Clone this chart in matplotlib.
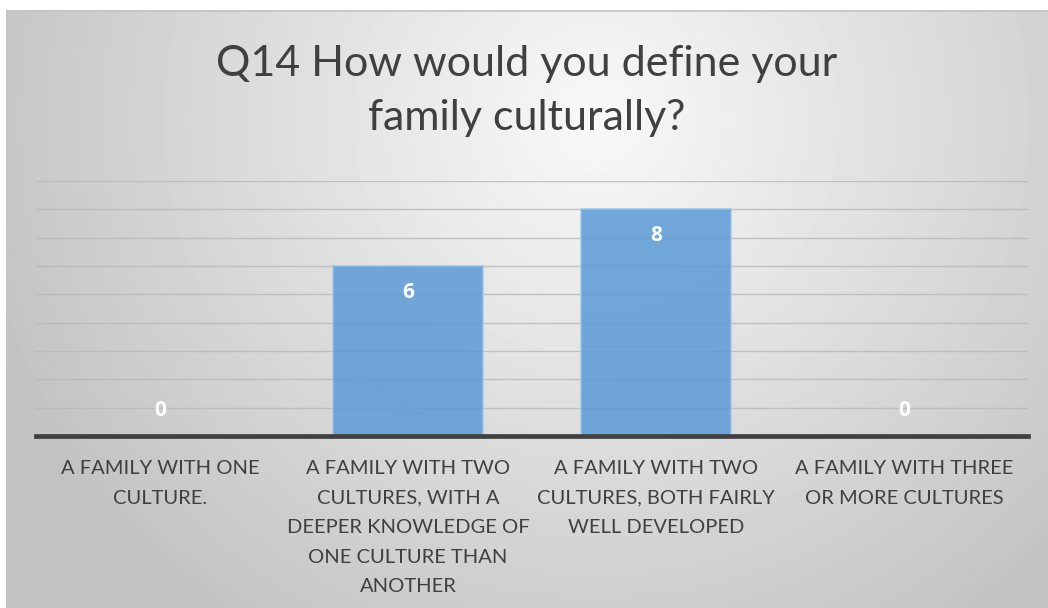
import matplotlib
matplotlib.use('Agg')

import numpy as np
import matplotlib.pyplot as plt

# ======================== Chart data ========================
CATEGORIES = [
    "A FAMILY WITH ONE\nCULTURE.",
    "A FAMILY WITH TWO\nCULTURES, WITH A\nDEEPER KNOWLEDGE OF\nONE CULTURE THAN\nANOTHER",
    "A FAMILY WITH TWO\nCULTURES, BOTH FAIRLY\nWELL DEVELOPED",
    "A FAMILY WITH THREE\nOR MORE CULTURES",
]
COUNTS = [0, 6, 8, 0]
TITLE = "Q14 How would you define your\nfamily culturally?"
Y_MAX = 9

# ======================== Style ========================
W, H = 1048, 608
DPI = 100
FONT = ['Lato', 'DejaVu Sans']
TEXT_COLOR = '#404040'
BAR_COLOR = '#5b9bd5'
BAR_EDGE = '#9dc3e6'
GRID_COLOR = '#b8b8b8'
AXIS_COLOR = '#404040'

plt.rcParams['font.family'] = FONT

fig = plt.figure(figsize=(W / DPI, H / DPI), dpi=DPI)
fig.patch.set_facecolor('white')

# chart box with soft radial grey fill
box_l, box_t = 6, 10
bg = fig.add_axes([box_l / W, 0, (W - box_l) / W, (H - box_t) / H])
bw, bh = W - box_l, H - box_t
xx, yy = np.meshgrid(np.arange(bw), np.arange(bh))
cx, cy, rx, ry = 590, 110, 560, 540
d = np.sqrt(((xx - cx) / rx) ** 2 + ((yy - cy) / ry) ** 2)
shade = np.clip(0.975 - 0.185 * d, 0.76, 1.0)
bg.imshow(shade, cmap='gray', vmin=0, vmax=1, aspect='auto',
          extent=[0, bw, bh, 0], interpolation='bilinear')
bg.set_xlim(0, bw)
bg.set_ylim(bh, 0)
bg.axhline(0.5, color='#c4c4c4', lw=1.2)
bg.set_axis_off()

# plot area
pl, pr, pt, pb = 36, 1028, 181, 436
ax = fig.add_axes([pl / W, (H - pb) / H, (pr - pl) / W, (pb - pt) / H])
ax.patch.set_alpha(0)
x = np.arange(len(CATEGORIES))
ax.set_xlim(-0.5, len(CATEGORIES) - 0.5)
ax.set_ylim(0, Y_MAX)

for yv in range(1, Y_MAX + 1):
    ax.axhline(yv, color=GRID_COLOR, lw=1.0, alpha=0.8, zorder=1)

ax.bar(x, COUNTS, width=0.605, color=BAR_COLOR, alpha=0.85,
       edgecolor=BAR_EDGE, linewidth=1.2, zorder=2)

for s in ['top', 'right', 'left']:
    ax.spines[s].set_visible(False)
ax.spines['bottom'].set_color(AXIS_COLOR)
ax.spines['bottom'].set_linewidth(3.4)
ax.spines['bottom'].set_zorder(3)
ax.set_yticks([])
ax.set_xticks([])

# value labels
for xi, v in zip(x, COUNTS):
    off = -26 if v > 0 else 25
    ax.annotate(str(v), xy=(xi, v), xytext=(0, off), textcoords='offset pixels',
                ha='center', va='center', color='white', fontsize=15,
                fontweight='bold', family=['Open Sans', 'DejaVu Sans'], zorder=4)

# category labels
for xi, lab in zip(x, CATEGORIES):
    ax.annotate(lab, xy=(xi, 0), xytext=(0, -24), textcoords='offset pixels',
                ha='center', va='top', color=TEXT_COLOR, fontsize=14.5,
                linespacing=1.9, multialignment='center')

# title
fig.text((box_l + W) / 2 / W, 1 - 45 / H, TITLE, ha='center', va='top',
         fontsize=31, color=TEXT_COLOR, linespacing=1.52, fontweight='normal')

fig.savefig('out.png', dpi=DPI)
